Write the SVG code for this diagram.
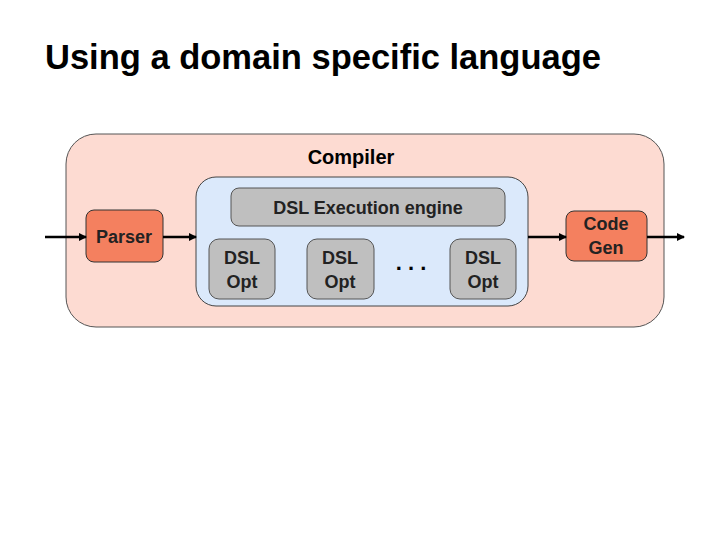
<svg xmlns="http://www.w3.org/2000/svg" width="720" height="540" viewBox="0 0 720 540">
<style>
text{font-family:"Liberation Sans",Arial,sans-serif;fill:#000;text-anchor:middle;font-weight:bold}
.l{font-size:18px;fill:#222}
.o{fill:#f4805f;stroke:#333;stroke-width:1}
.g{fill:#bfbfbf;stroke:#555;stroke-width:1}
.c{stroke:#000;stroke-width:2.5;fill:none;marker-end:url(#a)}
</style>
<defs><marker id="a" markerWidth="8" markerHeight="8" refX="7" refY="4" orient="auto" markerUnits="userSpaceOnUse"><path d="M0,0L8,4L0,8z" fill="#000"/></marker></defs>
<rect width="720" height="540" fill="#fff"/>
<text x="45" y="69" style="font-size:34.5px;text-anchor:start">Using a domain specific language</text>
<g id="compiler"><rect x="66" y="134" width="598" height="193" rx="30" fill="#fddbd2" stroke="#555"/><text x="351" y="164" style="font-size:20px">Compiler</text></g>
<g id="engine-box"><rect x="196" y="177" width="332" height="129" rx="20" fill="#dbe9fb" stroke="#444"/></g>
<g id="engine"><rect x="231" y="188" width="274" height="38" rx="8" class="g"/><text x="368" y="214" class="l">DSL Execution engine</text></g>
<g id="parser"><rect x="86" y="210" width="77" height="52" rx="8" class="o"/><text x="124" y="243" class="l">Parser</text></g>
<g id="codegen"><rect x="566" y="211" width="81" height="50" rx="8" class="o"/><text x="606" y="230" class="l">Code</text><text x="606" y="254" class="l">Gen</text></g>
<g id="opt1"><rect x="209" y="239" width="66" height="60" rx="10" class="g"/><text x="242" y="264" class="l">DSL</text><text x="242" y="288" class="l">Opt</text></g>
<g id="opt2"><rect x="307" y="239" width="67" height="60" rx="10" class="g"/><text x="340" y="264" class="l">DSL</text><text x="340" y="288" class="l">Opt</text></g>
<g id="dots"><text x="411" y="270" style="font-size:22px">. . .</text></g>
<g id="opt3"><rect x="450" y="239" width="66" height="60" rx="10" class="g"/><text x="483" y="264" class="l">DSL</text><text x="483" y="288" class="l">Opt</text></g>
<g id="connectors">
<line x1="45" y1="237" x2="86" y2="237" class="c"/>
<line x1="163" y1="237" x2="196" y2="237" class="c"/>
<line x1="528" y1="237" x2="566" y2="237" class="c"/>
<line x1="647" y1="237" x2="684" y2="237" class="c"/>
</g>
</svg>
